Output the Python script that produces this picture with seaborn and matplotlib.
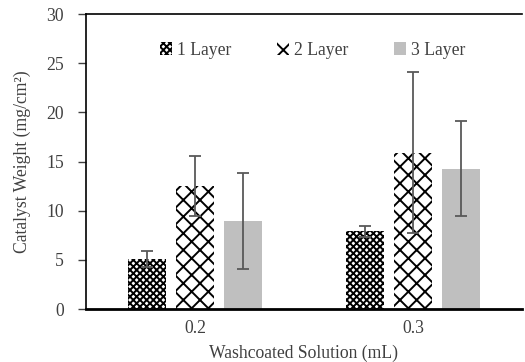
import pandas as pd
import seaborn as sns
import matplotlib.pyplot as plt

# Values
solutions = ['0.2', '0.3']
layers = ['1 Layer', '2 Layer', '3 Layer']
weight_1 = [5.1, 7.9]
weight_2 = [12.5, 15.9]
weight_3 = [8.95, 14.3]
err_1 = [0.8, 0.55]
err_2 = [3.05, 8.2]
err_3 = [4.9, 4.85]

df = pd.DataFrame({
    'solution': solutions * 3,
    'layer': [l for l in layers for _ in solutions],
    'weight': weight_1 + weight_2 + weight_3,
    'err': err_1 + err_2 + err_3,
})

sns.set_style('white')
plt.rcParams['font.family'] = ['Liberation Serif', 'DejaVu Serif']
plt.rcParams['hatch.linewidth'] = 1.4

fig = plt.figure(figsize=(5.25, 3.62), dpi=100)
ax = fig.add_axes([0.164, 0.146, 0.83, 0.815])

sns.barplot(data=df, x='solution', y='weight', hue='layer', order=solutions,
            hue_order=layers, palette=['white', 'white', '#bfbfbf'],
            width=0.66, gap=0.2, errorbar=None, ax=ax)

hatches = ['xxxxx', 'xx', '']


def style_patch(p, h):
    p.set_hatch(h)
    p.set_edgecolor('black' if h else '#bfbfbf')
    p.set_linewidth(0)


for cont, h in zip(ax.containers, hatches):
    for bar in cont:
        style_patch(bar, h)

# error bars
for cont, lay in zip(ax.containers, layers):
    sub = df[df['layer'] == lay]
    xs = [b.get_x() + b.get_width() / 2 for b in cont]
    ax.errorbar(xs, sub['weight'], yerr=sub['err'], fmt='none',
                ecolor='#595959', elinewidth=1.3, capsize=4.5, capthick=1.3)

fs = 12.7
ax.set_xlim(-0.5, 1.5)
ax.set_ylim(0, 30)
ax.set_yticks(range(0, 31, 5))
ax.set_xlabel('Washcoated Solution (mL)', fontsize=fs, color='#404040', labelpad=6)
ax.set_ylabel('Catalyst Weight (mg/cm²)', fontsize=fs, color='#404040', labelpad=11)
ax.tick_params(axis='y', left=True, length=6, width=1, labelsize=fs,
               labelcolor='#404040', color='#404040', pad=10)
ax.tick_params(axis='x', bottom=False, labelsize=fs, labelcolor='#404040', pad=4)

for s in ['left', 'top', 'bottom']:
    ax.spines[s].set_visible(True)
    ax.spines[s].set_color('black')
ax.spines['left'].set_linewidth(1.2)
ax.spines['top'].set_linewidth(1.2)
ax.spines['bottom'].set_linewidth(2)
ax.spines['right'].set_visible(False)

leg = ax.legend(loc='upper center', bbox_to_anchor=(0.52, 0.96), ncol=3,
                frameon=False, fontsize=fs, handlelength=0.7, handleheight=0.7,
                handletextpad=0.25, columnspacing=2.6)
for p, h in zip(leg.get_patches(), hatches):
    style_patch(p, h)
for t in leg.get_texts():
    t.set_color('#404040')

fig.savefig('out.png', dpi=100)
